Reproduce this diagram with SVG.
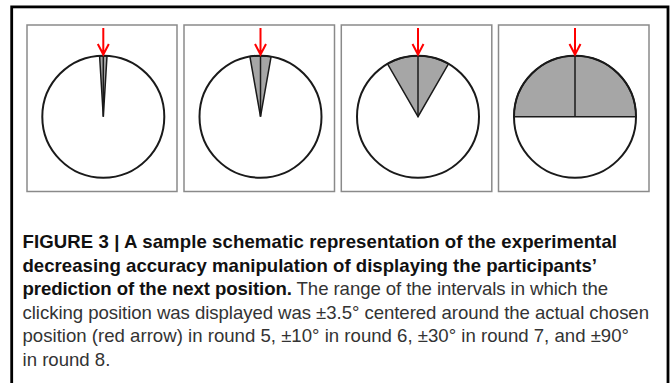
<svg xmlns="http://www.w3.org/2000/svg" width="671" height="383" viewBox="0 0 671 383">
<style>
.panel{fill:#ffffff;stroke:#8a8a8a;stroke-width:1.5}
.wedge{fill:#a6a6a6;stroke:#1a1a1a;stroke-width:1.5;stroke-linejoin:miter}
.ring{fill:none;stroke:#1a1a1a;stroke-width:2}
.axis{stroke:#1a1a1a;stroke-width:1.5}
.arrow{fill:none;stroke:#ff0000;stroke-width:2}
.cap{font-family:"Liberation Sans",Arial,Helvetica,sans-serif;font-size:18.6px}
.b{font-weight:bold;fill:#111111}
.r{fill:#333333}
</style>
<rect x="11.7" y="6.9" width="656.3" height="420" fill="none" stroke="#000000" stroke-width="2.8"/>
<g id="panel1">
<rect class="panel" x="27" y="25" width="150" height="166.5"/>
<path class="wedge" d="M103.3,116.7 L99.58,55.81 A61,61 0 0 1 107.02,55.81 Z"/>
<line class="axis" x1="103.3" y1="116.7" x2="103.3" y2="55.7"/>
<circle class="ring" cx="103.3" cy="116.7" r="61"/>
<path class="arrow" d="M103.3,28 V54.5 M97.8,44 L103.3,54.5 L108.8,44"/>
</g>
<g id="panel2">
<rect class="panel" x="184" y="25" width="150.5" height="166.5"/>
<path class="wedge" d="M260.5,116.7 L249.91,56.63 A61,61 0 0 1 271.09,56.63 Z"/>
<line class="axis" x1="260.5" y1="116.7" x2="260.5" y2="55.7"/>
<circle class="ring" cx="260.5" cy="116.7" r="61"/>
<path class="arrow" d="M260.5,28 V54.5 M255,44 L260.5,54.5 L266,44"/>
</g>
<g id="panel3">
<rect class="panel" x="341.3" y="25" width="150.5" height="166.5"/>
<path class="wedge" d="M418,116.7 L387.5,63.87 A61,61 0 0 1 448.5,63.87 Z"/>
<line class="axis" x1="418" y1="116.7" x2="418" y2="55.7"/>
<circle class="ring" cx="418" cy="116.7" r="61"/>
<path class="arrow" d="M418,28 V54.5 M412.5,44 L418,54.5 L423.5,44"/>
</g>
<g id="panel4">
<rect class="panel" x="498.5" y="25" width="150.5" height="166.5"/>
<path class="wedge" d="M575,116.7 L514,116.7 A61,61 0 0 1 636,116.7 Z"/>
<line class="axis" x1="575" y1="116.7" x2="575" y2="55.7"/>
<circle class="ring" cx="575" cy="116.7" r="61"/>
<path class="arrow" d="M575,28 V54.5 M569.5,44 L575,54.5 L580.5,44"/>
</g>
<g id="caption" class="cap">
<text x="22.5" y="248" class="b" textLength="594.5" lengthAdjust="spacing">FIGURE 3 | A sample schematic representation of the experimental</text>
<text x="22.5" y="271.6" class="b" textLength="574.5" lengthAdjust="spacing">decreasing accuracy manipulation of displaying the participants’</text>
<text x="22.5" y="295.2" textLength="585.5" lengthAdjust="spacing"><tspan class="b">prediction of the next position.</tspan><tspan class="r"> The range of the intervals in which the</tspan></text>
<text x="22.5" y="318.8" class="r" textLength="626.5" lengthAdjust="spacing">clicking position was displayed was ±3.5° centered around the actual chosen</text>
<text x="22.5" y="342.4" class="r" textLength="606.5" lengthAdjust="spacing">position (red arrow) in round 5, ±10° in round 6, ±30° in round 7, and ±90°</text>
<text x="22.5" y="366" class="r">in round 8.</text>
</g>
</svg>
